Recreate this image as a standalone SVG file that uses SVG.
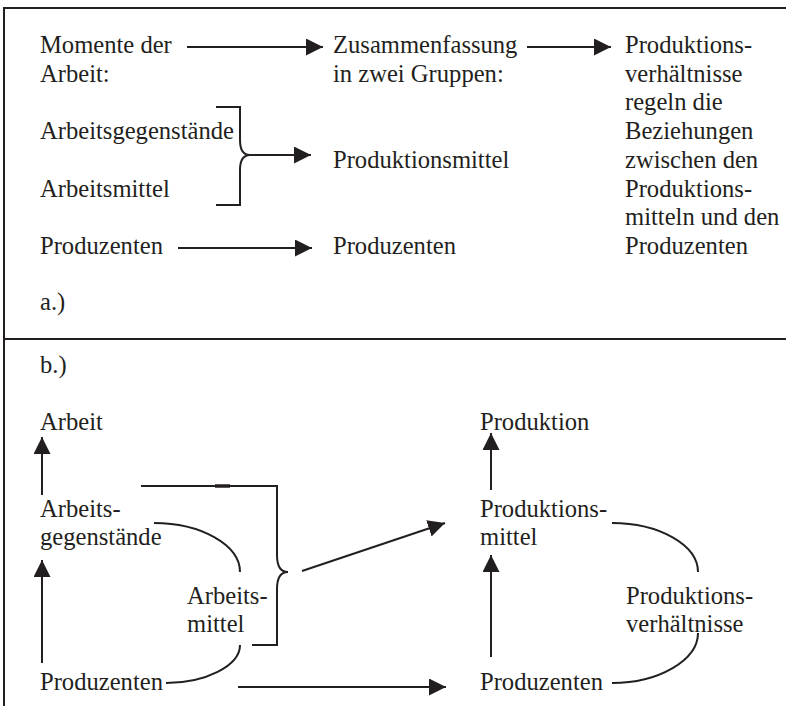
<svg xmlns="http://www.w3.org/2000/svg" width="786" height="706" viewBox="0 0 786 706">
<style>
text{font-family:"Liberation Serif","Times New Roman",serif;font-size:24.6px;fill:#231f20}
.ln{fill:none;stroke:#231f20;stroke-width:2}
.ar{fill:none;stroke:#231f20;stroke-width:2;marker-end:url(#ah)}
</style>
<defs>
<marker id="ah" viewBox="0 0 17 17" refX="17" refY="8.5" markerWidth="17" markerHeight="17" markerUnits="userSpaceOnUse" orient="auto">
<path d="M0,0 L17,8.5 L0,17 Z" fill="#231f20"/>
</marker>
</defs>
<rect width="786" height="706" fill="#fff"/>
<g id="frame" class="ln">
<path d="M4,706 V8 H786"/>
<path d="M4,339 H786"/>
</g>
<g id="n-momente"><text x="40" y="53">Momente der</text><text x="40" y="81.7">Arbeit:</text></g>
<g id="n-zusammen"><text x="333" y="53">Zusammenfassung</text><text x="333" y="81.7">in zwei Gruppen:</text></g>
<g id="n-prodverh-a"><text x="625" y="53">Produktions-</text><text x="625" y="81.7">verhältnisse</text><text x="625" y="110.4">regeln die</text><text x="625" y="139.1">Beziehungen</text><text x="625" y="167.8">zwischen den</text><text x="625" y="196.5">Produktions-</text><text x="625" y="225.2">mitteln und den</text><text x="625" y="253.9">Produzenten</text></g>
<g id="n-arbeitsgeg-a"><text x="40" y="139.1">Arbeitsgegenstände</text></g>
<g id="n-arbeitsmittel-a"><text x="40" y="196.5">Arbeitsmittel</text></g>
<g id="n-prodmittel-a"><text x="333" y="167.8">Produktionsmittel</text></g>
<g id="n-produzenten-a1"><text x="40" y="253.9">Produzenten</text></g>
<g id="n-produzenten-a2"><text x="333" y="253.9">Produzenten</text></g>
<g id="n-a"><text x="40" y="310">a.)</text></g>
<g id="n-b"><text x="40" y="373">b.)</text></g>
<g id="n-arbeit"><text x="40" y="430">Arbeit</text></g>
<g id="n-arbeitsgeg-b"><text x="40" y="517">Arbeits-</text><text x="40" y="545">gegenstände</text></g>
<g id="n-arbeitsmittel-b"><text x="187" y="604">Arbeits-</text><text x="187" y="632">mittel</text></g>
<g id="n-produzenten-b1"><text x="40" y="690">Produzenten</text></g>
<g id="n-produktion"><text x="480" y="430">Produktion</text></g>
<g id="n-prodmittel-b"><text x="480" y="517">Produktions-</text><text x="480" y="545">mittel</text></g>
<g id="n-prodverh-b"><text x="626" y="604">Produktions-</text><text x="626" y="632">verhältnisse</text></g>
<g id="n-produzenten-b2"><text x="480" y="690">Produzenten</text></g>
<g id="connectors">
<path class="ar" d="M187,47 H323"/>
<path class="ar" d="M527,47 H611"/>
<path class="ln" d="M216,107 H240 V140 Q240,155 250,155 Q240,155 240,170 V205 H216"/>
<path class="ar" d="M249,155 H311"/>
<path class="ar" d="M178,248 H312"/>
<path class="ar" d="M42,495 V437"/>
<path class="ar" d="M42,663 V560"/>
<path class="ln" d="M141,486 H277 V555 Q277,572 288,572 Q277,572 277,589 V645 H252"/>
<path d="M215,486 H230" stroke="#231f20" stroke-width="3.5"/>
<path class="ln" d="M154,523 C201,523 240,545 240,572"/>
<path class="ln" d="M240,645 C240,666 205,683 166,683"/>
<path class="ar" d="M302,571 L445,523"/>
<path class="ar" d="M238,687 H446"/>
<path class="ar" d="M491,490 V433"/>
<path class="ar" d="M491,657 V555"/>
<path class="ln" d="M612,523 C659,523 698,545 698,572"/>
<path class="ln" d="M698,633 C698,660 659,683 612,683"/>
</g>
</svg>
